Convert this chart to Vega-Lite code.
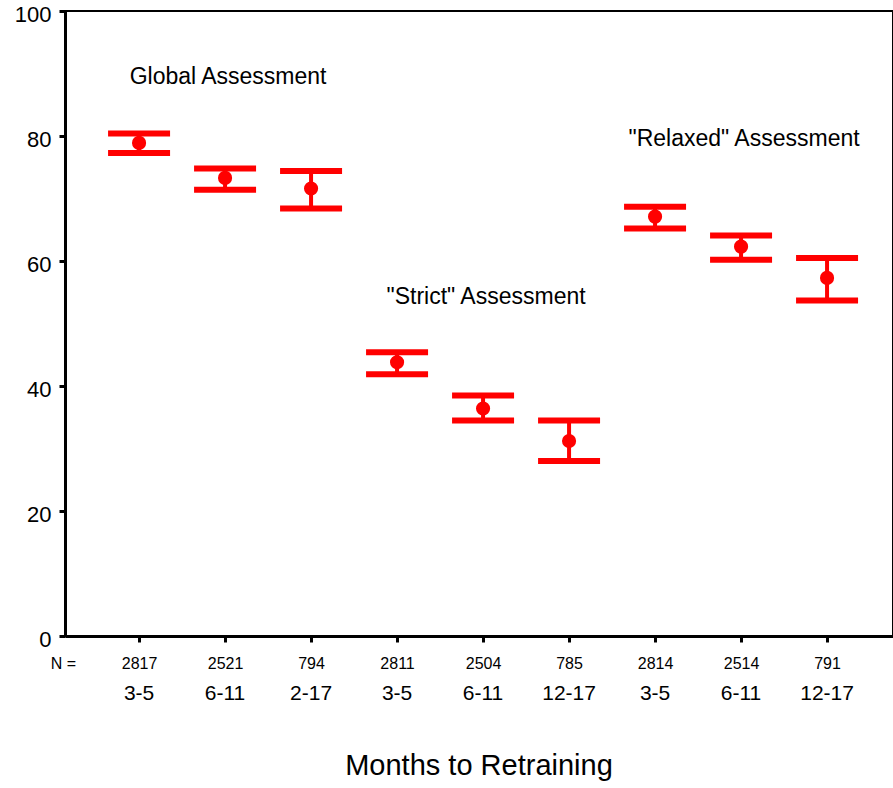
{
  "$schema": "https://vega.github.io/schema/vega-lite/v6.json",
  "width": 828,
  "height": 625,
  "autosize": "none",
  "padding": {"left": 65, "top": 11, "right": 0, "bottom": 152},
  "background": "white",
  "config": {
    "view": {"stroke": "black", "strokeWidth": 2},
    "font": "Liberation Sans",
    "title": {"font": "Liberation Sans", "fontWeight": "normal", "color": "black"}
  },
  "title": {"text": "Months to Retraining", "orient": "bottom", "anchor": "middle", "fontSize": 29, "offset": 48},
  "datasets": {
    "means": [
      {"pos": 1, "group": "Global", "months": "3-5", "n": 2817, "mean": 78.9, "lo": 77.3, "hi": 80.4},
      {"pos": 2, "group": "Global", "months": "6-11", "n": 2521, "mean": 73.3, "lo": 71.4, "hi": 74.8},
      {"pos": 3, "group": "Global", "months": "2-17", "n": 794, "mean": 71.6, "lo": 68.4, "hi": 74.4},
      {"pos": 4, "group": "Strict", "months": "3-5", "n": 2811, "mean": 43.8, "lo": 41.9, "hi": 45.4},
      {"pos": 5, "group": "Strict", "months": "6-11", "n": 2504, "mean": 36.4, "lo": 34.5, "hi": 38.5},
      {"pos": 6, "group": "Strict", "months": "12-17", "n": 785, "mean": 31.2, "lo": 28.0, "hi": 34.5},
      {"pos": 7, "group": "Relaxed", "months": "3-5", "n": 2814, "mean": 67.1, "lo": 65.2, "hi": 68.7},
      {"pos": 8, "group": "Relaxed", "months": "6-11", "n": 2514, "mean": 62.3, "lo": 60.2, "hi": 64.1},
      {"pos": 9, "group": "Relaxed", "months": "12-17", "n": 791, "mean": 57.3, "lo": 53.7, "hi": 60.5}
    ],
    "notes": [
      {"label": "Global Assessment", "n": 2521, "y": 89.5},
      {"label": "\"Strict\" Assessment", "n": 2504, "y": 54.3},
      {"label": "\"Relaxed\" Assessment", "n": 2514, "y": 79.6}
    ]
  },
  "data": {"name": "means"},
  "encoding": {
    "x": {
      "field": "n", "type": "nominal", "sort": null,
      "scale": {"type": "point", "padding": 0.814, "align": 0.529},
      "axis": {
        "orient": "bottom", "labelAngle": 0, "domainColor": "black", "domainWidth": 3,
        "tickColor": "black", "tickSize": 6, "tickWidth": 3, "labelFont": "Liberation Sans",
        "labelFontSize": 16, "labelPadding": 13, "labelColor": "black",
        "title": "N =", "titleX": -2, "titleY": 27, "titleAlign": "center", "titleBaseline": "middle",
        "titleFont": "Liberation Sans", "titleFontSize": 16, "titleFontWeight": "normal", "titleColor": "black"
      }
    }
  },
  "layer": [
    {
      "mark": {"type": "rule", "color": "#ff0000", "strokeWidth": 4},
      "encoding": {
        "y": {
          "field": "lo", "type": "quantitative",
          "scale": {"domain": [0, 100], "nice": false, "zero": true},
          "axis": {
            "values": [0, 20, 40, 60, 80, 100], "grid": false, "title": null,
            "domainColor": "black", "domainWidth": 3, "tickColor": "black", "tickSize": 6, "tickWidth": 3,
            "labelFontSize": 22, "labelPadding": 8, "labelOffset": 3, "labelColor": "black", "labelFont": "Liberation Sans"
          }
        },
        "y2": {"field": "hi"}
      }
    },
    {
      "mark": {"type": "tick", "orient": "horizontal", "color": "#ff0000", "size": 62, "thickness": 6, "opacity": 1},
      "encoding": {"y": {"field": "hi", "type": "quantitative"}}
    },
    {
      "mark": {"type": "tick", "orient": "horizontal", "color": "#ff0000", "size": 62, "thickness": 6, "opacity": 1},
      "encoding": {"y": {"field": "lo", "type": "quantitative"}}
    },
    {
      "mark": {"type": "circle", "color": "#ff0000", "size": 200, "opacity": 1},
      "encoding": {"y": {"field": "mean", "type": "quantitative"}}
    },
    {
      "mark": {"type": "text", "fontSize": 21, "font": "Liberation Sans", "baseline": "middle", "align": "center", "color": "black"},
      "encoding": {"y": {"datum": -9.3, "type": "quantitative"}, "text": {"field": "months"}}
    },
    {
      "data": {"name": "notes"},
      "mark": {"type": "text", "fontSize": 23, "font": "Liberation Sans", "baseline": "middle", "align": "center", "color": "black", "dx": 3},
      "encoding": {"y": {"field": "y", "type": "quantitative"}, "text": {"field": "label"}}
    }
  ]
}
